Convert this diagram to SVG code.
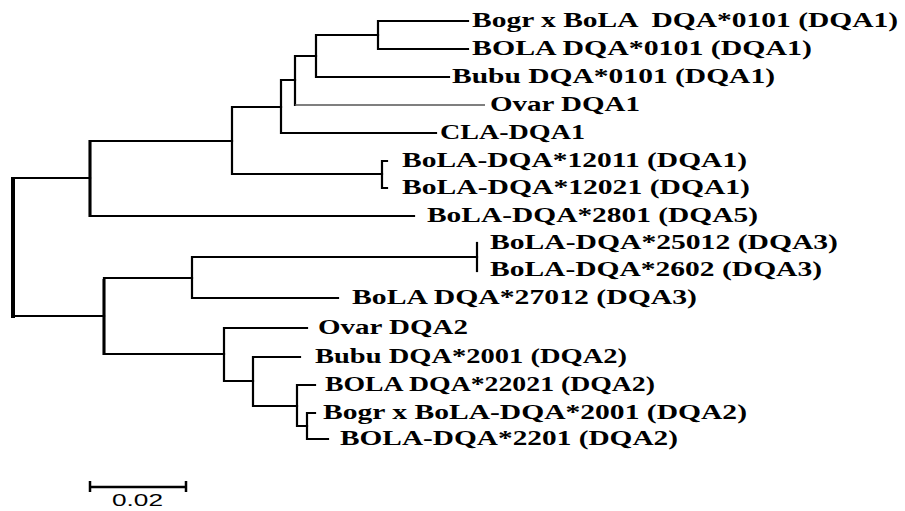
<svg xmlns="http://www.w3.org/2000/svg" width="905" height="511" viewBox="0 0 905 511">
<style>
.br{fill:none;stroke:#000;stroke-width:2.2;stroke-linejoin:miter;stroke-linecap:square}
.thin{fill:none;stroke:#555;stroke-width:1.6}
.lb{font-family:"Liberation Serif","Times New Roman",serif;font-weight:bold;font-size:20px;fill:#000}
.sc{font-family:"Liberation Sans",Arial,sans-serif;font-size:17px;fill:#000}
</style>
<rect width="905" height="511" fill="#fff"/>
<g id="connectors">
<path class="br" d="M468 21 H378 V49 H468"/>
<path class="br" d="M378 35 H316 V77 H449"/>
<path class="br" d="M316 56 H295 V105"/>
<path class="thin" d="M295 105 H485"/>
<path class="br" d="M295 80 H281 V133 H436"/>
<path class="br" d="M387 161 H382 V188 H387"/>
<path class="br" d="M281 107 H232 V174 H382"/>
<path class="br" d="M232 141 H90 V216 H414"/>
<path class="br" d="M477 243 V271"/>
<path class="br" d="M477 257 H192 V298 H338"/>
<path class="br" d="M315 413 H307 V439 H328"/>
<path class="br" d="M315 385 H297 V426 H307"/>
<path class="br" d="M300 357 H253 V406 H297"/>
<path class="br" d="M307 328 H224 V381 H253"/>
<path class="br" d="M192 278 H104 V354 H224"/>
<path class="br" d="M90 178 H13 V316 H104"/>
<path d="M13 177 V318" stroke="#000" stroke-width="4" fill="none"/>
<path d="M90 140 V217 M104 279 V355" stroke="#000" stroke-width="3" fill="none"/>
</g>
<g id="leaf1"><text class="lb" x="472" y="27" textLength="426" lengthAdjust="spacingAndGlyphs" xml:space="preserve">Bogr x BoLA  DQA*0101 (DQA1)</text></g>
<g id="leaf2"><text class="lb" x="472" y="55" textLength="340" lengthAdjust="spacingAndGlyphs">BOLA DQA*0101 (DQA1)</text></g>
<g id="leaf3"><text class="lb" x="452" y="83" textLength="323" lengthAdjust="spacingAndGlyphs">Bubu DQA*0101 (DQA1)</text></g>
<g id="leaf4"><text class="lb" x="490" y="111" textLength="150" lengthAdjust="spacingAndGlyphs">Ovar DQA1</text></g>
<g id="leaf5"><text class="lb" x="440" y="139" textLength="145" lengthAdjust="spacingAndGlyphs">CLA-DQA1</text></g>
<g id="leaf6"><text class="lb" x="402" y="167" textLength="345" lengthAdjust="spacingAndGlyphs">BoLA-DQA*12011 (DQA1)</text></g>
<g id="leaf7"><text class="lb" x="402" y="194" textLength="348" lengthAdjust="spacingAndGlyphs">BoLA-DQA*12021 (DQA1)</text></g>
<g id="leaf8"><text class="lb" x="427" y="222" textLength="331" lengthAdjust="spacingAndGlyphs">BoLA-DQA*2801 (DQA5)</text></g>
<g id="leaf9"><text class="lb" x="490" y="249" textLength="348" lengthAdjust="spacingAndGlyphs">BoLA-DQA*25012 (DQA3)</text></g>
<g id="leaf10"><text class="lb" x="490" y="276" textLength="332" lengthAdjust="spacingAndGlyphs">BoLA-DQA*2602 (DQA3)</text></g>
<g id="leaf11"><text class="lb" x="352" y="304" textLength="345" lengthAdjust="spacingAndGlyphs">BoLA DQA*27012 (DQA3)</text></g>
<g id="leaf12"><text class="lb" x="318" y="334" textLength="150" lengthAdjust="spacingAndGlyphs">Ovar DQA2</text></g>
<g id="leaf13"><text class="lb" x="315" y="363" textLength="312" lengthAdjust="spacingAndGlyphs">Bubu DQA*2001 (DQA2)</text></g>
<g id="leaf14"><text class="lb" x="325" y="391" textLength="330" lengthAdjust="spacingAndGlyphs">BOLA DQA*22021 (DQA2)</text></g>
<g id="leaf15"><text class="lb" x="323" y="419" textLength="424" lengthAdjust="spacingAndGlyphs">Bogr x BoLA-DQA*2001 (DQA2)</text></g>
<g id="leaf16"><text class="lb" x="340" y="445" textLength="338" lengthAdjust="spacingAndGlyphs">BOLA-DQA*2201 (DQA2)</text></g>
<g id="scalebar">
<path d="M90 487 H186 M90 481 V492 M186 481 V492" stroke="#000" stroke-width="2.5" fill="none"/>
<text class="sc" x="112" y="506" textLength="51" lengthAdjust="spacingAndGlyphs">0.02</text>
</g>
</svg>
